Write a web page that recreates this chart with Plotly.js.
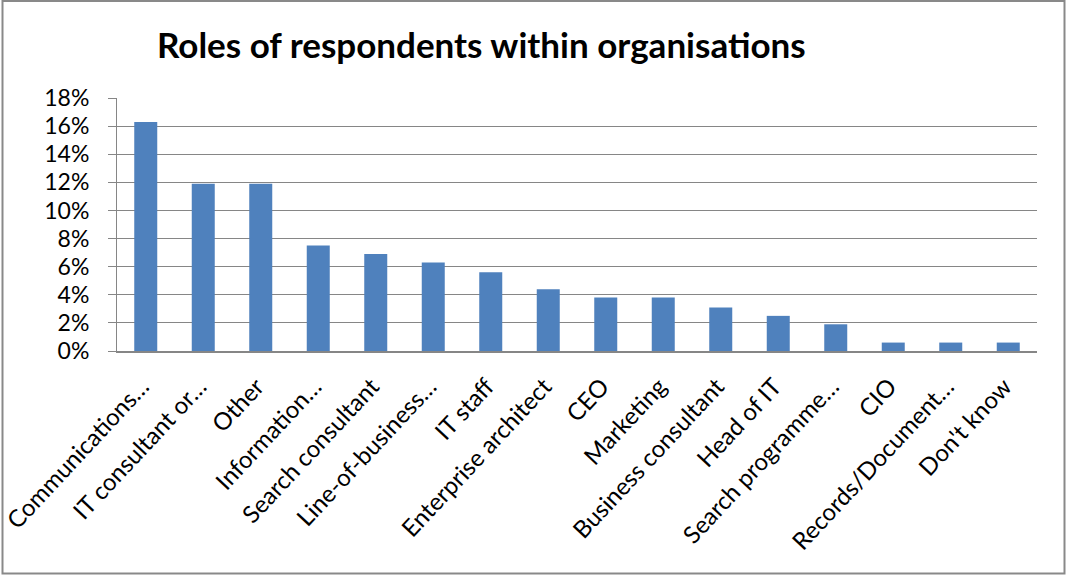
<!DOCTYPE html>
<html>
<head>
<meta charset="utf-8">
<script src="https://cdn.plot.ly/plotly-3.0.1.min.js"></script>
<style>
html,body{margin:0;padding:0;background:#fff;}
#chart{width:1066px;height:576px;}
</style>
</head>
<body>
<div id="chart"></div>
<script>
const categories = [
  "Communications…", "IT consultant or…", "Other", "Information…",
  "Search consultant", "Line-of-business…", "IT staff", "Enterprise architect",
  "CEO", "Marketing", "Business consultant", "Head of IT",
  "Search programme…", "CIO", "Records/Document…", "Don't know"
];
const shares = [
  0.163, 0.119, 0.119, 0.075,
  0.069, 0.063, 0.056, 0.044,
  0.038, 0.038, 0.031, 0.025,
  0.019, 0.006, 0.006, 0.006
];
const chartTitle = "Roles of respondents within organisations";

const trace = {
  type: "bar",
  x: categories,
  y: shares,
  marker: {color: "#4F81BD"},
  hoverinfo: "x+y"
};

const layout = {
  width: 1066,
  height: 576,
  margin: {l: 117, r: 29, t: 98, b: 225},
  paper_bgcolor: "#ffffff",
  plot_bgcolor: "#ffffff",
  showlegend: false,
  bargap: 0.6,
  font: {family: "Lato, 'Open Sans', sans-serif", size: 23, color: "#000"},
  title: {
    text: "<b>" + chartTitle + "</b>",
    font: {family: "Lato, 'Open Sans', sans-serif", size: 35, color: "#000"},
    xref: "paper", x: 0.396, xanchor: "center",
    yref: "container", y: 0.92, yanchor: "middle"
  },
  xaxis: {
    type: "category",
    tickangle: -47,
    showline: true,
    linecolor: "#868686",
    linewidth: 2,
    ticks: "",
    showgrid: false,
    ticklabelstandoff: 10,
    ticklabelshift: -4,
    tickfont: {size: 24, color: "#000"},
    automargin: false
  },
  yaxis: {
    range: [0, 0.18],
    dtick: 0.02,
    tickformat: ".0%",
    showgrid: true,
    gridcolor: "#868686",
    gridwidth: 1,
    zeroline: false,
    showline: true,
    linecolor: "#868686",
    linewidth: 1,
    ticks: "outside",
    ticklen: 8,
    tickcolor: "#868686",
    ticklabelstandoff: 14,
    tickfont: {size: 23, color: "#000"},
    automargin: false
  },
  shapes: [{
    type: "rect",
    xref: "paper", yref: "paper",
    x0: (2.5 - 117) / 920, x1: (1064.5 - 117) / 920,
    y0: (351 - 573.5) / 253, y1: (351 - 1) / 253,
    line: {color: "#898989", width: 2},
    fillcolor: "rgba(0,0,0,0)",
    layer: "below"
  }]
};

Plotly.newPlot("chart", [trace], layout, {displayModeBar: false, staticPlot: true});
</script>
</body>
</html>
